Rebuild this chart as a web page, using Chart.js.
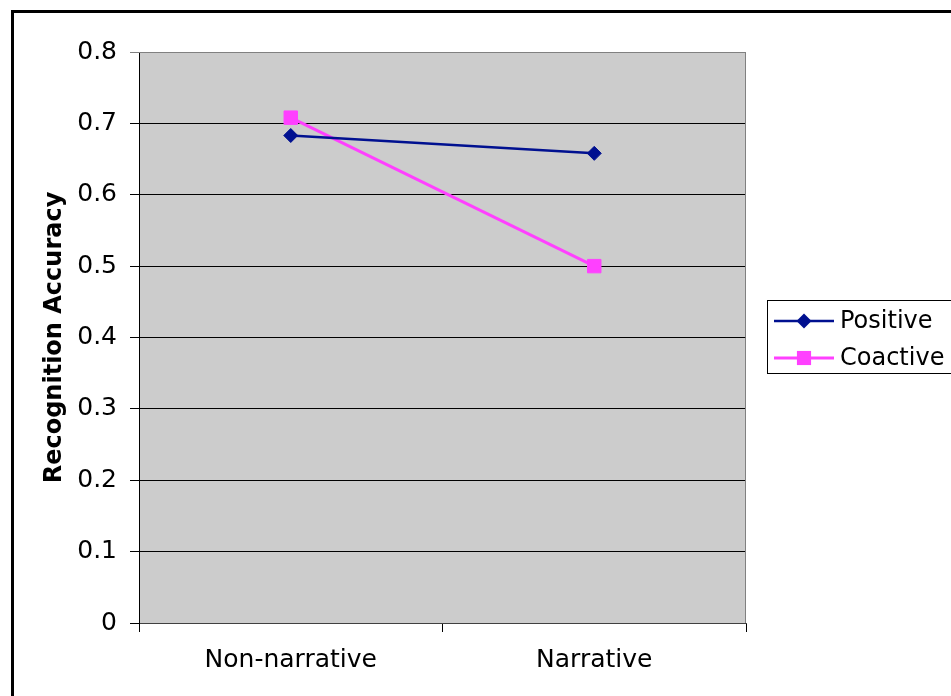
<!DOCTYPE html>
<html>
<head>
<meta charset="utf-8">
<script src="https://cdn.jsdelivr.net/npm/chart.js@4/dist/chart.umd.min.js"></script>
<style>
  html, body { margin: 0; padding: 0; background: #fff; }
  #wrap { width: 951px; height: 696px; position: relative; }
</style>
</head>
<body>
<div id="wrap"><canvas id="chart" width="951" height="696"></canvas></div>
<script>
/* =========================
   DATA
========================= */
const categories = ["Non-narrative", "Narrative"];
const positive = [0.683, 0.658];
const coactive = [0.708, 0.500];
const yTicks = [0, 0.1, 0.2, 0.3, 0.4, 0.5, 0.6, 0.7, 0.8];

const FONT = "'DejaVu Sans', Verdana, sans-serif";

/* =========================
   PLUGINS
========================= */
// grey plot background, frame and the outer page border
const plotFrame = {
  id: "plotFrame",
  beforeDraw(chart) {
    const { ctx, chartArea: a } = chart;
    ctx.save();
    ctx.fillStyle = "#fff";
    ctx.fillRect(0, 0, chart.width, chart.height);
    ctx.fillStyle = "#cccccc";
    ctx.fillRect(a.left, a.top, a.right - a.left, a.bottom - a.top);
    ctx.restore();
  },
  afterDraw(chart) {
    const { ctx, chartArea: a } = chart;
    ctx.save();
    ctx.strokeStyle = "#808080";
    ctx.lineWidth = 1;
    ctx.beginPath();
    ctx.moveTo(a.left, a.top + 0.5);
    ctx.lineTo(a.right - 0.5, a.top + 0.5);
    ctx.lineTo(a.right - 0.5, a.bottom);
    ctx.stroke();
    // outer border, only top and left are in frame
    ctx.strokeStyle = "#000";
    ctx.lineWidth = 3;
    ctx.beginPath();
    ctx.moveTo(12.5, chart.height);
    ctx.lineTo(12.5, 11.5);
    ctx.lineTo(chart.width, 11.5);
    ctx.stroke();
    ctx.restore();
  }
};

function marker(ctx, style, x, y, r, color) {
  ctx.fillStyle = color;
  ctx.beginPath();
  if (style === "rectRot") {
    ctx.moveTo(x, y - r);
    ctx.lineTo(x + r, y);
    ctx.lineTo(x, y + r);
    ctx.lineTo(x - r, y);
    ctx.closePath();
  } else {
    const s = r * Math.SQRT1_2;
    ctx.rect(x - s, y - s, 2 * s, 2 * s);
  }
  ctx.fill();
}

// boxed legend on the right
const boxLegend = {
  id: "boxLegend",
  afterDraw(chart) {
    const { ctx } = chart;
    const box = { x: 767, y: 300, w: 190, h: 74 };
    ctx.save();
    ctx.fillStyle = "#fff";
    ctx.fillRect(box.x, box.y, box.w, box.h);
    ctx.strokeStyle = "#000";
    ctx.lineWidth = 1;
    ctx.strokeRect(box.x + 0.5, box.y + 0.5, box.w, box.h - 1);
    ctx.font = "24px " + FONT;
    ctx.textBaseline = "middle";
    chart.data.datasets.forEach((ds, i) => {
      const y = 321 + i * 37;
      ctx.strokeStyle = ds.borderColor;
      ctx.lineWidth = ds.borderWidth;
      ctx.beginPath();
      ctx.moveTo(774, y);
      ctx.lineTo(834, y);
      ctx.stroke();
      marker(ctx, ds.pointStyle, 804, y, ds.pointRadius + 0.5, ds.pointBackgroundColor);
      ctx.fillStyle = "#000";
      ctx.fillText(ds.label, 840, y + 1);
    });
    ctx.restore();
  }
};

/* =========================
   CHART
========================= */
new Chart(document.getElementById("chart"), {
  type: "line",
  data: {
    labels: categories,
    datasets: [{
      label: "Positive",
      data: positive,
      borderColor: "#001090",
      backgroundColor: "#001090",
      pointBackgroundColor: "#001090",
      pointBorderColor: "#001090",
      borderWidth: 2.5,
      pointStyle: "rectRot",
      pointRadius: 7,
      pointBorderWidth: 1,
      tension: 0
    }, {
      label: "Coactive",
      data: coactive,
      borderColor: "#ff40ff",
      backgroundColor: "#ff40ff",
      pointBackgroundColor: "#ff40ff",
      pointBorderColor: "#ff40ff",
      borderWidth: 3,
      pointStyle: "rect",
      pointRadius: 9.5,
      pointBorderWidth: 1,
      tension: 0
    }]
  },
  options: {
    responsive: false,
    animation: false,
    layout: { padding: { left: 0, top: 52, right: 205, bottom: 0 } },
    plugins: {
      legend: { display: false },
      tooltip: { enabled: false }
    },
    scales: {
      x: {
        offset: true,
        afterFit(scale) { scale.height = 73; },
        grid: {
          offset: true,
          drawOnChartArea: false,
          drawTicks: true,
          tickLength: 9,
          color: "#000"
        },
        border: { color: "#404040", width: 1 },
        ticks: {
          color: "#000",
          padding: 13,
          font: { family: FONT, size: 25 }
        }
      },
      y: {
        min: 0,
        max: 0.8,
        afterFit(scale) { scale.width = 139; },
        afterBuildTicks(scale) { scale.ticks = yTicks.map(v => ({ value: v })); },
        grid: {
          color: ctx => (ctx.tick && ctx.tick.value === 0.8 ? "#808080" : "#000"),
          tickLength: 9,
          lineWidth: 1
        },
        border: { color: "#000", width: 1 },
        ticks: {
          color: "#000",
          padding: 13,
          font: { family: FONT, size: 25 },
          callback: v => String(Math.round(v * 10) / 10)
        },
        title: {
          display: true,
          text: "Recognition Accuracy",
          color: "#000",
          padding: { top: 40, bottom: 0 },
          font: { family: FONT, size: 24, weight: "bold" }
        }
      }
    }
  },
  plugins: [plotFrame, boxLegend]
});
</script>
</body>
</html>
